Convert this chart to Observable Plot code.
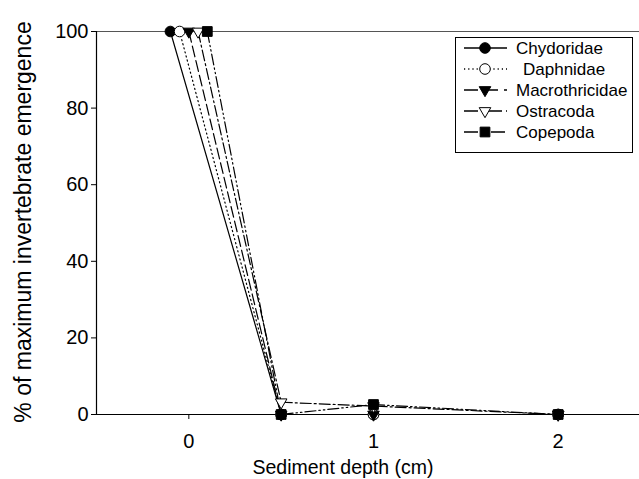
<!DOCTYPE html>
<html>
<head>
<meta charset="utf-8">
<script src="https://cdn.jsdelivr.net/npm/d3@7"></script>
<script src="https://cdn.jsdelivr.net/npm/@observablehq/plot@0.6"></script>
<style>
  html, body { margin: 0; padding: 0; background: #fff; overflow: hidden; }
  #chart svg { display: block; }
</style>
</head>
<body>
<div id="chart"></div>
<script>
// ---- data ----
const depths = [0, 0.5, 1, 2];
const taxa = ["Chydoridae", "Daphnidae", "Macrothricidae", "Ostracoda", "Copepoda"];
const chydoridae     = [100, 0, 0, 0];
const daphnidae      = [100, 0, 0, 0];
const macrothricidae = [100, 0, 0, 0];
const ostracoda      = [100, 3.2, 2.2, 0];
const copepoda       = [100, 0, 2.6, 0];
// horizontal stagger used in the original figure at the surface (0 cm)
const surfaceOffset  = [-0.1, -0.05, 0, 0.05, 0.1];
const yTicks = [0, 20, 40, 60, 80, 100];
const xTicks = [0, 1, 2];

const seriesValues = [chydoridae, daphnidae, macrothricidae, ostracoda, copepoda];

// down-pointing triangle symbol
const triangleDown = {
  draw(context, size) {
    const y = -Math.sqrt(size / (Math.sqrt(3) * 3));
    context.moveTo(0, -2 * y);
    context.lineTo(-Math.sqrt(3) * y, y);
    context.lineTo(Math.sqrt(3) * y, y);
    context.closePath();
  }
};

const styles = [
  {symbol: "circle", fill: "black", dash: null, legendDash: null, r: 5.3},
  {symbol: "circle", fill: "white", dash: "1.2,3", legendDash: "1.2,3", r: 5.3},
  {symbol: triangleDown, fill: "black", dash: "11,4", legendDash: "14,6", r: 4.3},
  {symbol: triangleDown, fill: "white", dash: "11,3,2,3", legendDash: "14,4,2,4", r: 4.3},
  {symbol: "square", fill: "black", dash: "11,3,1.5,3,1.5,3", legendDash: "14,4,1.5,3,1.5,3", r: 5.5}
];

const rows = [];
taxa.forEach((t, i) => {
  seriesValues[i].forEach((v, j) => {
    rows.push({taxon: t, i, depth: depths[j] + (j === 0 ? surfaceOffset[i] : 0), value: v});
  });
});

const marks = [
  Plot.ruleY([0], {stroke: "black", strokeWidth: 1.2}),
  Plot.ruleY([100], {stroke: "#555", strokeWidth: 1}),
  Plot.ruleX([-0.5], {y1: 0, y2: 100, stroke: "black", strokeWidth: 1.2}),
  Plot.axisY({ticks: yTicks, tickSize: 6, tickPadding: 3, fontSize: 20, label: null, tickFormat: d => d}),
  Plot.axisX({ticks: xTicks, tickSize: 5, tickPadding: 14, fontSize: 20, label: null, tickFormat: d => d})
];
taxa.forEach((t, i) => {
  const data = rows.filter(d => d.i === i);
  marks.push(Plot.line(data, {x: "depth", y: "value", stroke: "black", strokeWidth: 1.2,
    strokeDasharray: styles[i].dash || undefined}));
});
taxa.forEach((t, i) => {
  const data = rows.filter(d => d.i === i);
  marks.push(Plot.dot(data, {x: "depth", y: "value", symbol: styles[i].symbol, r: styles[i].r,
    fill: styles[i].fill, stroke: "black", strokeWidth: 1}));
});

const chart = Plot.plot({
  width: 639,
  height: 479,
  marginLeft: 97,
  marginTop: 31,
  marginBottom: 65,
  marginRight: 0,
  style: {fontFamily: "'Liberation Sans', Arial, Helvetica, sans-serif", color: "black", background: "white"},
  x: {domain: [-0.5, 2.5], range: [96, 650]},
  y: {domain: [0, 100]},
  marks
});

document.getElementById("chart").appendChild(chart);

// axis titles and legend
const svg = d3.select(chart);
const font = "'Liberation Sans', Arial, Helvetica, sans-serif";
svg.append("text")
  .attr("transform", "translate(31,222) rotate(-90)")
  .attr("text-anchor", "middle")
  .attr("font-family", font)
  .attr("font-size", 23)
  .attr("fill", "black")
  .text("% of maximum invertebrate emergence");
svg.append("text")
  .attr("x", 343).attr("y", 474)
  .attr("text-anchor", "middle")
  .attr("font-family", font)
  .attr("font-size", 19.5)
  .attr("fill", "black")
  .text("Sediment depth (cm)");

const lg = svg.append("g");
lg.append("rect")
  .attr("x", 455.5).attr("y", 37.5).attr("width", 177).attr("height", 115)
  .attr("fill", "white").attr("stroke", "black").attr("stroke-width", 1);
taxa.forEach((t, i) => {
  const y = 48 + i * 21;
  const st = styles[i];
  lg.append("line").attr("x1", 464).attr("x2", 507).attr("y1", y).attr("y2", y)
    .attr("stroke", "black").attr("stroke-width", 1.3)
    .attr("stroke-dasharray", st.legendDash);
  const sym = d3.symbol().type(
    st.symbol === "circle" ? d3.symbolCircle : st.symbol === "square" ? d3.symbolSquare : triangleDown
  ).size(Math.PI * st.r * st.r);
  lg.append("path").attr("d", sym()).attr("transform", `translate(485,${y})`)
    .attr("fill", st.fill).attr("stroke", "black").attr("stroke-width", 1);
  lg.append("text").attr("x", i === 1 ? 523 : 516).attr("y", y).attr("dy", "0.35em")
    .attr("text-anchor", "start")
    .attr("font-family", font).attr("font-size", 17).attr("fill", "black")
    .text(t);
});
</script>
</body>
</html>
